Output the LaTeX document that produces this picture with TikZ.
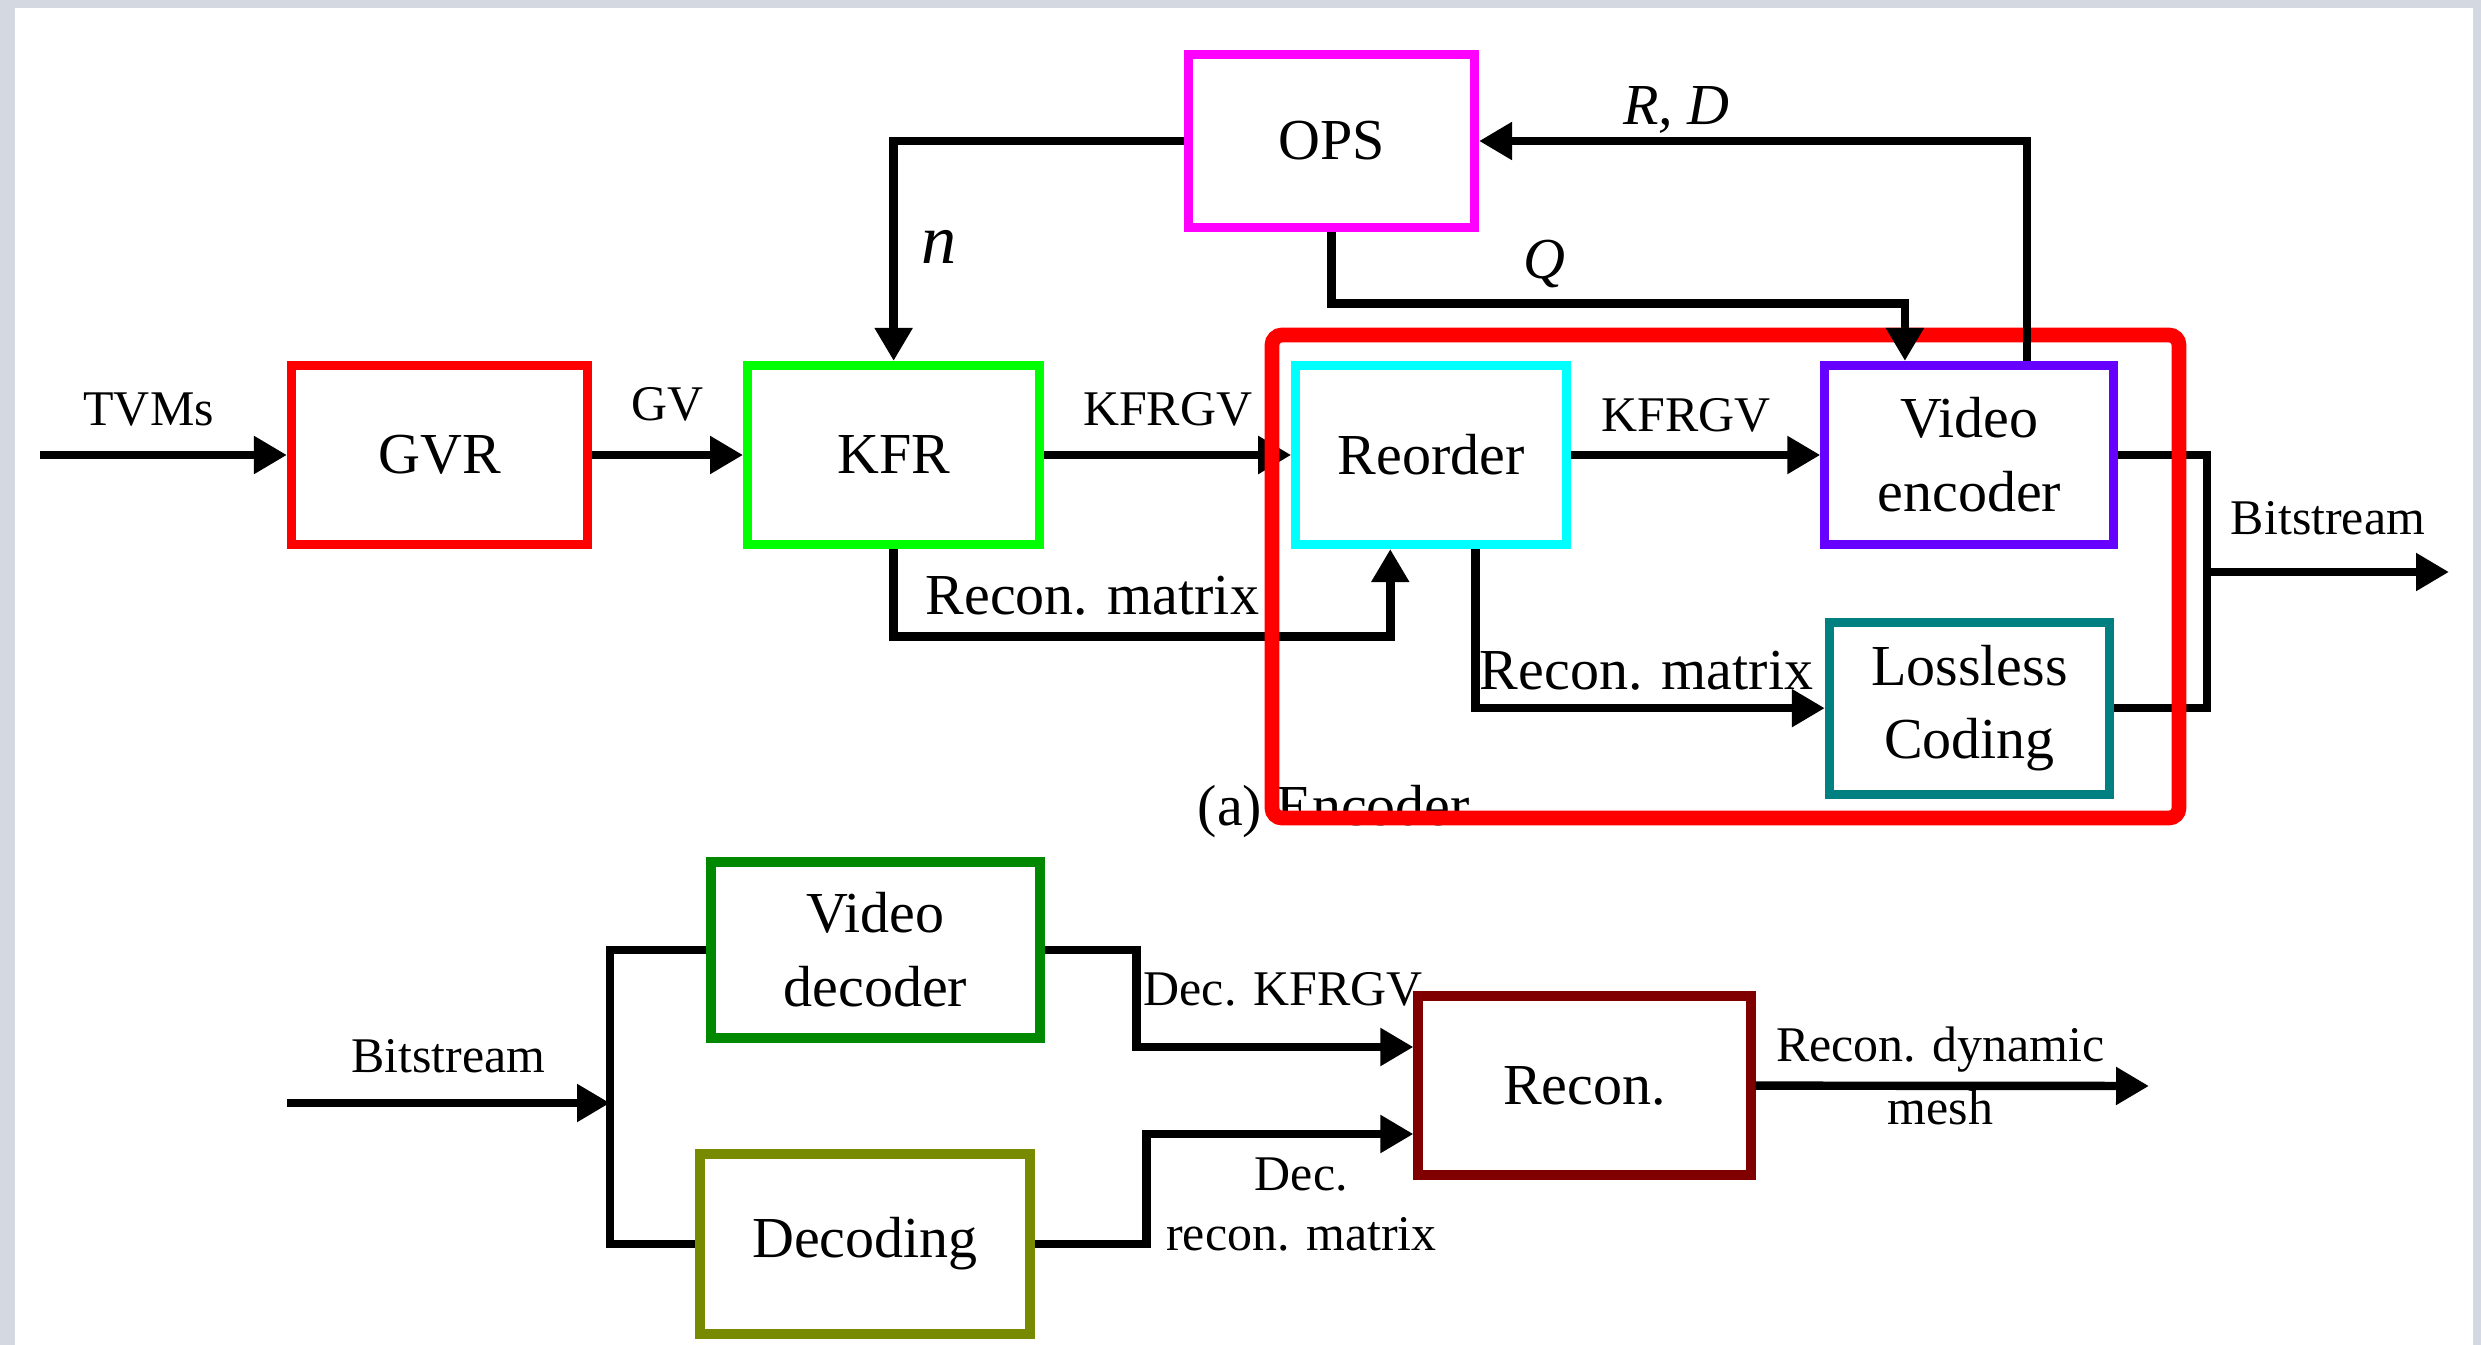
\documentclass[tikz,border=0pt]{standalone}
\usepackage{fontspec}
\setmainfont{Liberation Serif}
\usepackage{tikz}
\usetikzlibrary{positioning,arrows.meta}
\definecolor{gvrred}{RGB}{255,0,0}
\definecolor{kfrgreen}{RGB}{0,255,0}
\definecolor{opsmag}{RGB}{255,0,255}
\definecolor{reocyan}{RGB}{0,255,255}
\definecolor{encviolet}{RGB}{102,0,255}
\definecolor{llteal}{RGB}{0,128,128}
\definecolor{decgreen}{RGB}{0,136,0}
\definecolor{decolive}{RGB}{120,138,0}
\definecolor{recmaroon}{RGB}{128,0,0}
\definecolor{bggray}{RGB}{212,216,224}
\newcommand{\boxfont}{\fontsize{16.5}{20}\selectfont}
\newcommand{\lblfont}{\fontsize{14.2}{17}\selectfont}
\newcommand{\varfont}{\fontsize{16.5}{20}\selectfont\itshape}

\begin{document}
\begin{tikzpicture}[blk/.style={rectangle,draw,line width=2.6pt,align=center,
                                font=\boxfont,inner sep=0pt,minimum height=1.79cm},
                    lbl/.style={font=\lblfont,inner sep=0pt,align=center},
                    ln/.style={line width=2.4pt},
                    arr/.style={ln,-{Triangle[length=3.3mm,width=3.6mm]}}]
    \fill[bggray] (0,0) rectangle (24.81,-13.45);
    \fill[white] (0.15,-0.08) rectangle (24.73,-13.45);
    \useasboundingbox (0,0) rectangle (24.81,-13.45);

    \node[blk,draw=gvrred,minimum width=2.96cm] (gvr) at (4.395,-4.55) {GVR};
    \node[blk,draw=kfrgreen,minimum width=2.92cm,right=1.51cm of gvr] (kfr) {KFR};
    \node[blk,draw=reocyan,minimum width=2.71cm,right=2.47cm of kfr] (reo) {Reorder};
    \node[blk,draw=encviolet,minimum width=2.89cm,right=2.49cm of reo] (venc) {Video\\[1pt]encoder};
    \node[blk,draw=llteal,minimum width=2.8cm,minimum height=1.72cm,
          below=0.685cm of venc] (lls) {Lossless\\[1pt]Coding};
    \node[blk,draw=opsmag,minimum width=2.86cm,minimum height=1.73cm] (ops) at (13.315,-1.41) {OPS};

    \node[lbl,font=\boxfont,anchor=base west] (capa) at (11.97,-8.25) {(a) Encoder};

    \coordinate (tvm) at (0.40,-4.55);
    \coordinate (bsj) at (22.07,-5.72);
    \coordinate (bso) at (24.49,-5.72);
    \draw[arr] (tvm) -- (gvr) node[lbl,pos=0.44,above=0.25cm] {TVMs};
    \draw[arr] (gvr) -- (kfr) node[lbl,midway,above=0.3cm] {GV};
    \draw[arr] (kfr) -- (reo) node[lbl,midway,above=0.25cm] {KFRGV};
    \draw[arr] (reo) -- (venc) node[lbl,pos=0.46,above=0.19cm] {KFRGV};
    \draw[arr] (ops.west) -| (kfr.north) node[lbl,pos=0.74,right=0.24cm] {\fontsize{20}{24}\selectfont\itshape n};
    \draw[arr] (kfr.south) -- ++(0,-0.875) -| ([xshift=-4.1mm]reo.south)
        node[lbl,font=\boxfont,pos=0.2,above=0.17cm] {Recon. matrix};
    \draw[arr] ([xshift=4.4mm]reo.south) |- (lls.west)
        node[lbl,font=\boxfont,pos=0.745,above=0.14cm] {Recon. matrix};
    \draw[ln] (venc.east) -| (bsj) |- (lls.east);
    \draw[arr] (bsj) -- (bso) node[lbl,midway,above=0.33cm] {Bitstream};

    \draw[line width=4.2pt,gvrred,rounded corners=1mm] (12.72,-3.35) rectangle (21.79,-8.18);

    \draw[arr] ([xshift=5.75mm]venc.north) |- (ops.east)
        node[lbl,font=\varfont,pos=0.82,above=0.03cm] {R, D};
    \draw[arr] (ops.south) -- ++(0,-0.715) -| ([xshift=-6.45mm]venc.north)
        node[lbl,font=\varfont,pos=0.186,above=0.11cm] {Q};

    \node[blk,draw=decgreen,minimum width=3.29cm,minimum height=1.76cm] (vdec) at (8.755,-9.50) {Video\\[1pt]decoder};
    \node[blk,draw=decolive,minimum width=3.3cm,minimum height=1.8cm] (dcod) at (8.65,-12.44) {Decoding};
    \node[blk,draw=recmaroon,minimum width=3.33cm] (recon) at (15.845,-10.855) {Recon.};

    \coordinate (bsi) at (2.87,-11.03);
    \coordinate (bsk) at (6.10,-11.03);
    \coordinate (rout) at (21.49,-10.86);
    \draw[arr] (bsi) -- (bsk) node[lbl,midway,above=0.26cm] {Bitstream};
    \draw[ln] (vdec.west) -| (bsk) |- (dcod.west);
    \draw[arr] (vdec.east) -- ++(0.92,0) |- ([yshift=3.85mm]recon.west)
        node[lbl,pos=0.5,above right=0.37cm and 0.03cm] {Dec. KFRGV};
    \draw[arr] (dcod.east) -- ++(1.12,0) |- ([yshift=-4.85mm]recon.west)
        node[lbl,pos=0.79,below=0.2cm] {Dec.\\recon. matrix};
    \draw[arr] (recon) -- (rout) node[lbl,pos=0.47,yshift=0.1cm] {Recon. dynamic\\[1pt]mesh};
  \end{tikzpicture}
\end{document}
